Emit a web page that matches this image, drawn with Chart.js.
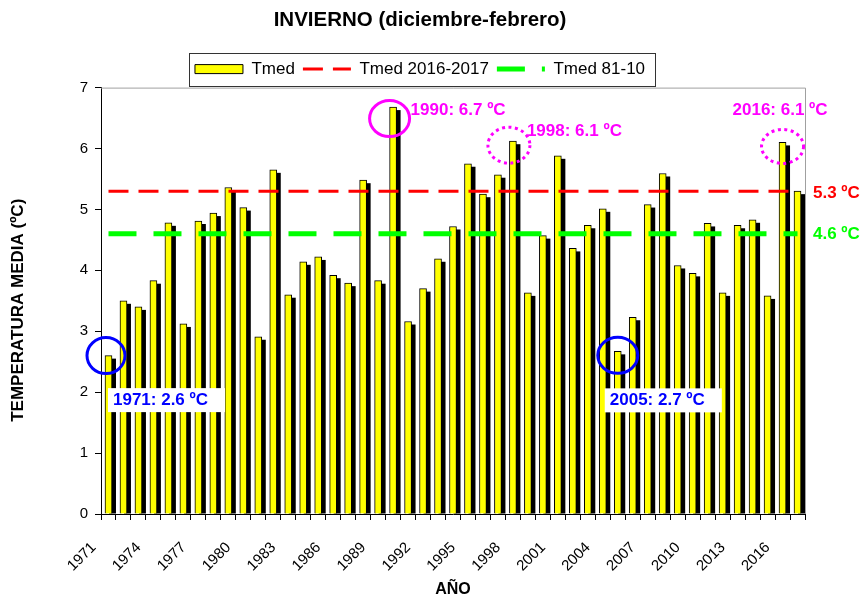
<!DOCTYPE html>
<html>
<head>
<meta charset="utf-8">
<script src="https://cdn.jsdelivr.net/npm/chart.js@4.4.0/dist/chart.umd.min.js"></script>
<style>
  html, body { margin: 0; padding: 0; background: #fff; }
  #wrap { width: 863px; height: 599px; }
</style>
</head>
<body>
<div id="wrap"><canvas id="chart" width="863" height="599"></canvas></div>
<script>
const years = [1971, 1972, 1973, 1974, 1975, 1976, 1977, 1978, 1979, 1980,
  1981, 1982, 1983, 1984, 1985, 1986, 1987, 1988, 1989, 1990,
  1991, 1992, 1993, 1994, 1995, 1996, 1997, 1998, 1999, 2000,
  2001, 2002, 2003, 2004, 2005, 2006, 2007, 2008, 2009, 2010,
  2011, 2012, 2013, 2014, 2015, 2016, 2017];

const tmed = [2.6, 3.5, 3.4, 3.83, 4.78, 3.12, 4.81, 4.94, 5.36, 5.03,
  2.91, 5.65, 3.6, 4.14, 4.22, 3.92, 3.79, 5.48, 3.83, 6.68,
  3.16, 3.7, 4.19, 4.72, 5.75, 5.25, 5.57, 6.12, 3.63, 4.57,
  5.88, 4.36, 4.74, 5.01, 2.67, 3.23, 5.08, 5.59, 4.08, 3.95,
  4.77, 3.63, 4.74, 4.83, 3.58, 6.1, 5.3];

// reference levels (horizontal lines)
const tmed1617 = 5.3;
const tmed8110 = 4.6;

const xTickYears = [1971, 1974, 1977, 1980, 1983, 1986, 1989, 1992, 1995, 1998, 2001, 2004, 2007, 2010, 2013, 2016];

// highlighted years
const highlights = [
  { year: 1971, text: '1971: 2.6 ºC', color: '#0000ff', dotted: false, box: true },
  { year: 1990, text: '1990: 6.7 ºC', color: '#ff00ff', dotted: false, box: false },
  { year: 1998, text: '1998: 6.1 ºC', color: '#ff00ff', dotted: true, box: false },
  { year: 2005, text: '2005: 2.7 ºC', color: '#0000ff', dotted: false, box: true },
  { year: 2016, text: '2016: 6.1 ºC', color: '#ff00ff', dotted: true, box: false }
];

// circle offset from bar top, radii, text offset from circle centre
const highlightLayout = {
  1971: { dx: -2.5, dy: 0, rx: 19, ry: 18, tx: 7, ty: 44.5 },
  1990: { dx: -3.5, dy: 11.5, rx: 20, ry: 18, tx: 21, ty: -8.5 },
  1998: { dx: -4, dy: 4, rx: 21, ry: 18, tx: 18, ty: -14 },
  2005: { dx: 0, dy: 4, rx: 20, ry: 18, tx: -8, ty: 45 },
  2016: { dx: 0, dy: 4, rx: 21, ry: 17, tx: -50, ty: -36 }
};

const FONT = "'Liberation Sans', Arial, sans-serif";
Chart.defaults.font.family = FONT;
Chart.defaults.color = '#000';

const SAMPLE_W = 48;

const barShadow = {
  id: 'barShadow',
  beforeDatasetsDraw(chart) {
    const ctx = chart.ctx;
    const meta = chart.getDatasetMeta(0);
    ctx.save();
    ctx.fillStyle = '#000';
    meta.data.forEach(bar => {
      const { x, y, base, width } = bar.getProps(['x', 'y', 'base', 'width'], true);
      ctx.fillRect(x - width / 2 + 4, y + 3, width, base - y - 3);
    });
    ctx.restore();
  }
};

const frame = {
  id: 'frame',
  afterDatasetsDraw(chart) {
    const { ctx, chartArea: a } = chart;
    ctx.save();
    ctx.strokeStyle = '#a0a0a0';
    ctx.lineWidth = 1;
    ctx.beginPath();
    ctx.moveTo(a.left, a.top + 0.5);
    ctx.lineTo(a.right + 0.5, a.top + 0.5);
    ctx.lineTo(a.right + 0.5, a.bottom);
    ctx.stroke();
    ctx.restore();
  }
};

// border round the legend and dashed line samples
const legendBox = {
  id: 'legendBox',
  afterDraw(chart) {
    const lg = chart.legend;
    const hb = lg.legendHitBoxes;
    if (!hb || !hb.length) return;
    const ctx = chart.ctx;
    ctx.save();
    lg.legendItems.forEach((item, i) => {
      const ds = chart.data.datasets[item.datasetIndex];
      if (ds.type !== 'line') return;
      const h = hb[i];
      const cy = h.top + h.height / 2;
      ctx.strokeStyle = ds.borderColor;
      ctx.lineWidth = ds.borderWidth;
      ctx.setLineDash(ds.borderDash);
      ctx.beginPath();
      ctx.moveTo(h.left, cy);
      ctx.lineTo(h.left + SAMPLE_W, cy);
      ctx.stroke();
    });
    ctx.setLineDash([]);
    const l = Math.min(...hb.map(h => h.left)) - 6;
    const r = Math.max(...hb.map(h => h.left + h.width)) + 10;
    const t = hb[0].top - 8;
    const b = hb[0].top + hb[0].height + 8;
    ctx.strokeStyle = '#333';
    ctx.lineWidth = 1;
    ctx.strokeRect(Math.round(l) + 0.5, Math.round(t) + 0.5, Math.round(r - l), Math.round(b - t));
    ctx.restore();
  }
};

const annotations = {
  id: 'annotations',
  afterDatasetsDraw(chart) {
    const { ctx, chartArea: a } = chart;
    const xs = chart.scales.x, ys = chart.scales.y;
    ctx.save();
    ctx.font = 'bold 17px ' + FONT;
    ctx.textBaseline = 'middle';
    ctx.textAlign = 'left';

    // level labels at the right of the plot
    ctx.fillStyle = '#ff0000';
    ctx.fillText(tmed1617.toFixed(1) + ' ºC', a.right + 8, ys.getPixelForValue(tmed1617) + 2);
    ctx.fillStyle = '#00ff00';
    ctx.fillText(tmed8110.toFixed(1) + ' ºC', a.right + 8, ys.getPixelForValue(tmed8110) + 1);

    highlights.forEach(h => {
      const i = years.indexOf(h.year);
      const lay = highlightLayout[h.year];
      const cx = xs.getPixelForValue(i) + lay.dx;
      const cy = ys.getPixelForValue(tmed[i]) + lay.dy;
      ctx.strokeStyle = h.color;
      ctx.lineWidth = 3;
      ctx.setLineDash(h.dotted ? [3, 3.5] : []);
      ctx.beginPath();
      ctx.ellipse(cx, cy, lay.rx, lay.ry, 0, 0, Math.PI * 2);
      ctx.stroke();
      ctx.setLineDash([]);
      const tx = cx + lay.tx, ty = cy + lay.ty;
      if (h.box) {
        const w = ctx.measureText(h.text).width;
        ctx.fillStyle = '#fff';
        ctx.fillRect(tx - 5, ty - 12, w + 22, 24);
      }
      ctx.fillStyle = h.color;
      ctx.fillText(h.text, tx, ty);
    });
    ctx.restore();
  }
};

new Chart(document.getElementById('chart'), {
  data: {
    labels: years,
    datasets: [
      {
        type: 'bar',
        label: 'Tmed',
        data: tmed,
        backgroundColor: '#ffff00',
        borderColor: '#000',
        borderWidth: 1,
        barThickness: 7,
        pointStyle: 'rect',
        order: 3
      },
      {
        type: 'line',
        label: 'Tmed 2016-2017',
        data: years.map(() => tmed1617),
        borderColor: '#ff0000',
        backgroundColor: '#ff0000',
        borderWidth: 3,
        borderDash: [20, 10],
        pointRadius: 0,
        pointStyle: 'line',
        fill: false,
        order: 1
      },
      {
        type: 'line',
        label: 'Tmed 81-10',
        data: years.map(() => tmed8110),
        borderColor: '#00ff00',
        backgroundColor: '#00ff00',
        borderWidth: 5,
        borderDash: [28, 17],
        pointRadius: 0,
        pointStyle: 'line',
        fill: false,
        order: 2
      }
    ]
  },
  options: {
    responsive: false,
    animation: false,
    layout: { padding: { left: 0, right: 23, top: 0, bottom: 0 } },
    plugins: {
      title: {
        display: true,
        text: 'INVIERNO (diciembre-febrero)',
        color: '#000',
        font: { size: 20.5, weight: 'bold' },
        padding: { top: 8, bottom: 20 }
      },
      legend: {
        display: true,
        labels: {
          usePointStyle: true,
          pointStyleWidth: SAMPLE_W,
          boxHeight: 9,
          padding: 8,
          color: '#000',
          font: { size: 17 },
          sort: (a, b) => a.datasetIndex - b.datasetIndex,
          generateLabels(chart) {
            const items = Chart.defaults.plugins.legend.labels.generateLabels(chart);
            items.forEach(it => {
              if (chart.data.datasets[it.datasetIndex].type === 'line') {
                it.strokeStyle = 'rgba(0,0,0,0)';
                it.fillStyle = 'rgba(0,0,0,0)';
              }
            });
            return items;
          }
        }
      },
      tooltip: { enabled: false }
    },
    scales: {
      x: {
        type: 'category',
        offset: true,
        grid: { display: true, offset: true, drawOnChartArea: false, tickLength: 6, color: '#000' },
        border: { display: true, color: '#000' },
        ticks: {
          autoSkip: false,
          maxRotation: 45,
          minRotation: 45,
          padding: 4,
          color: '#000',
          font: { size: 15 },
          callback: function (v, i) { return xTickYears.includes(years[i]) ? years[i] + '     ' : ''; }
        },
        title: { display: true, text: 'AÑO', color: '#000', font: { size: 16, weight: 'bold' }, padding: { top: 0, bottom: 0 } },
        afterFit: s => { s.height = 85; }
      },
      y: {
        min: 0,
        max: 7,
        grid: { drawOnChartArea: false, tickLength: 6, color: '#000' },
        border: { display: true, color: '#000' },
        ticks: { stepSize: 1, padding: 7, color: '#000', font: { size: 15 } },
        title: { display: true, text: 'TEMPERATURA MEDIA (ºC)    ', color: '#000', font: { size: 17, weight: 'bold' }, padding: { top: 8, bottom: 0 } },
        afterFit: s => { s.width = 101; }
      },
      y2: {
        position: 'right',
        display: true,
        grid: { display: false },
        ticks: { display: false },
        border: { display: false },
        afterFit: s => { s.width = 35; }
      }
    }
  },
  plugins: [barShadow, frame, legendBox, annotations]
});
</script>
</body>
</html>
